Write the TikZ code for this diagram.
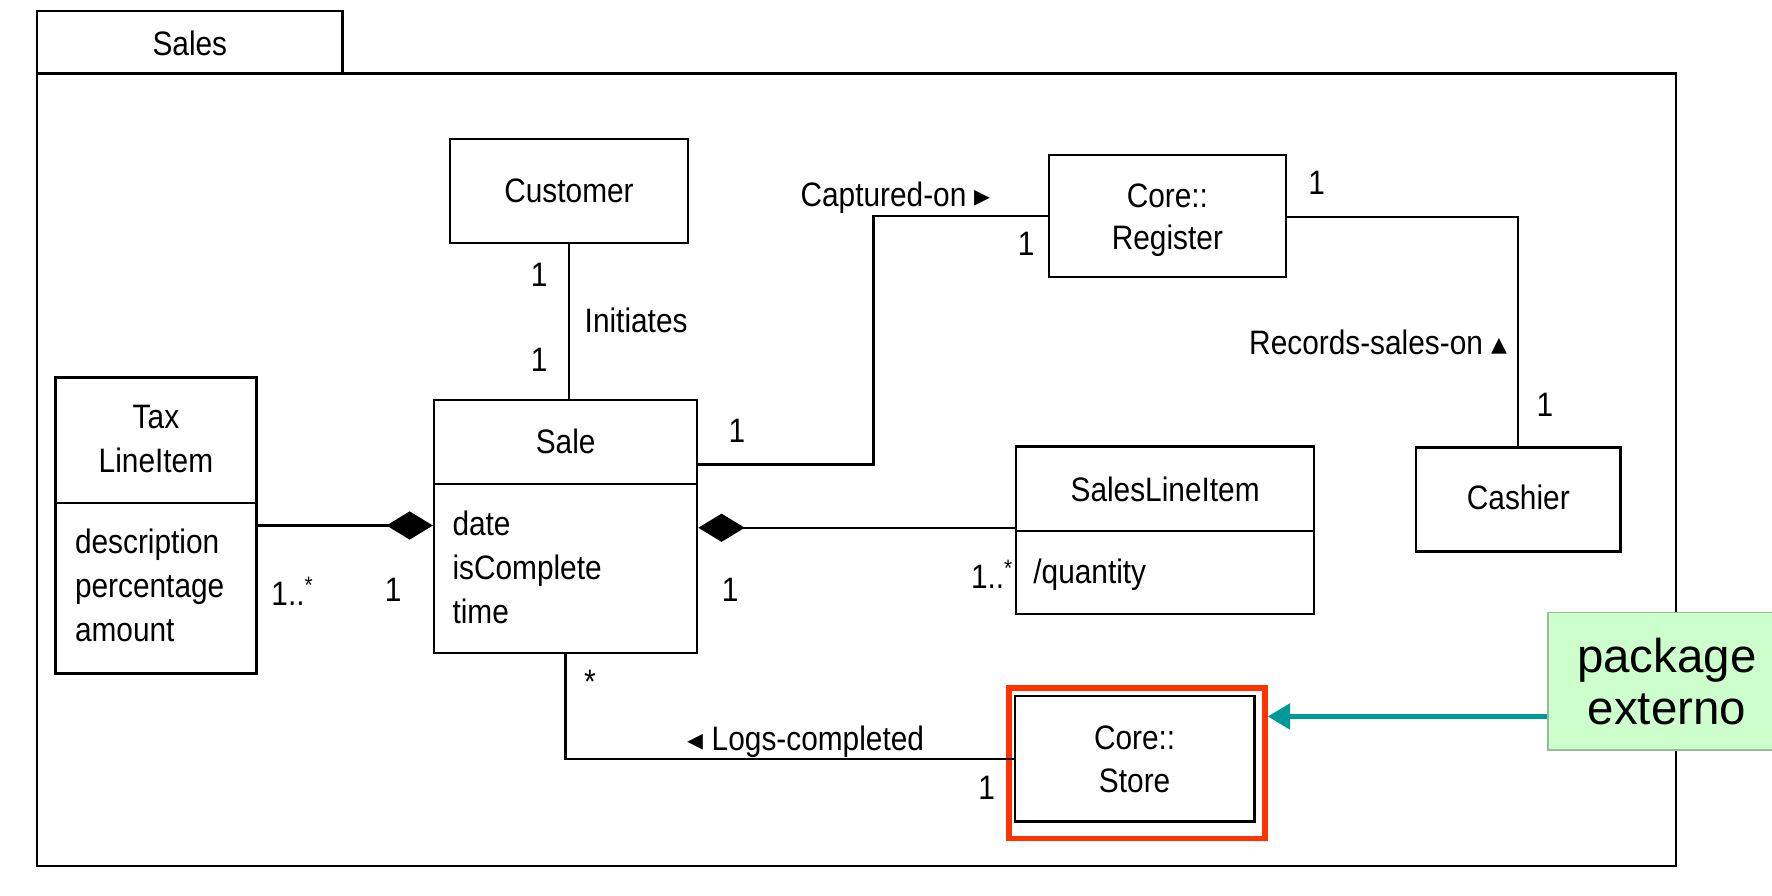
\documentclass[tikz,border=0pt]{standalone}
\usepackage{fontspec}
\setmainfont{Liberation Sans}[FakeStretch=0.88]
\newfontfamily\notefont{Liberation Sans}
\newfontfamily\symfont{DejaVu Sans}
\usetikzlibrary{arrows.meta}
\definecolor{arrowc}{RGB}{0,153,153}
\definecolor{redc}{RGB}{255,51,0}
\definecolor{notefill}{RGB}{204,255,204}
\definecolor{noteline}{RGB}{150,190,150}
\begin{document}
\begin{tikzpicture}[x=0.5pt,y=-0.5pt,
  box/.style={draw=black, line width=1pt, inner sep=0pt},
  txt/.style={font=\fontsize{15}{18}\selectfont, inner sep=0pt, text=black},
  conn/.style={draw=black, line width=1pt},
  comp/.style={conn, -{Diamond[length=20.5pt,width=12.5pt]}},
  tri/.style={font=\symfont\fontsize{14}{16}\selectfont}
]
\useasboundingbox (0,0) rectangle (1568,792);
\fill[white] (0,0) rectangle (1568,792);

% package
\node[box, minimum width=135pt, minimum height=27.5pt] (tab) at (168,37.5) {};
\node[txt, anchor=base] (tabname) at (168,49) {Sales};
\node[box, minimum width=725pt, minimum height=350.5pt] (pkg) at (758,415.5) {};

% classes
\node[box, minimum width=105.5pt, minimum height=46pt] (customer) at (503.5,169) {};
\node[txt, anchor=base] (customername) at (503.5,179) {Customer};

\node[box, minimum width=105pt, minimum height=54pt] (register) at (1033,191) {};
\node[txt, anchor=base] (registername1) at (1033,184) {Core::};
\node[txt, anchor=base] (registername2) at (1033,221) {Register};

\node[box, minimum width=116.5pt, minimum height=112pt] (sale) at (500.5,466) {};
\draw[conn] (sale.west |- 0,428) -- (sale.east |- 0,428);
\node[txt, anchor=base] (salename) at (500.5,401) {Sale};
\node[txt, anchor=base west] (saleattr1) at (400,474) {date};
\node[txt, anchor=base west] (saleattr2) at (400,513) {isComplete};
\node[txt, anchor=base west] (saleattr3) at (400,552) {time};

\node[box, minimum width=89pt, minimum height=131pt] (tax) at (138,465) {};
\draw[conn] (tax.west |- 0,445) -- (tax.east |- 0,445);
\node[txt, anchor=base] (taxname1) at (138,379) {Tax};
\node[txt, anchor=base] (taxname2) at (138,418) {LineItem};
\node[txt, anchor=base west] (taxattr1) at (66,490) {description};
\node[txt, anchor=base west] (taxattr2) at (66,529) {percentage};
\node[txt, anchor=base west] (taxattr3) at (66,568) {amount};

\node[box, minimum width=132pt, minimum height=74pt] (sli) at (1031,469) {};
\draw[conn] (sli.west |- 0,470) -- (sli.east |- 0,470);
\node[txt, anchor=base] (sliname) at (1031,444) {SalesLineItem};
\node[txt, anchor=base west] (sliattr) at (914,516) {/quantity};

\node[box, minimum width=90.5pt, minimum height=46pt] (cashier) at (1343.5,442) {};
\node[txt, anchor=base] (cashiername) at (1343.5,451) {Cashier};

\node[box, minimum width=106pt, minimum height=55.5pt] (store) at (1004,671.5) {};
\node[txt, anchor=base] (storename1) at (1004,663) {Core::};
\node[txt, anchor=base] (storename2) at (1004,701) {Store};

% highlight
\node[draw=redc, line width=2.6pt, inner sep=0pt, minimum width=113pt, minimum height=66.5pt] (storehl) at (1006,675.5) {};

% connectors
\draw[conn] (customer.south) -- (customer.south |- sale.north);
\node[txt] (m1) at (477,243) {1};
\node[txt] (m2) at (477,318) {1};
\node[txt, anchor=base west] (initiates) at (517,294) {Initiates};

\draw[conn] (sale.east |- 0,411) -- (773,411) -- (773,191) -- (register.west);
\node[txt] (m3) at (652,381) {1};
\node[txt] (m4) at (908,216) {1};
\node[txt, anchor=base west] (captured) at (708,183) {Captured-on {\symfont\fontsize{14}{16}\selectfont ▸}};

\draw[conn] (register.east |- 0,192) -| (cashier.north);
\node[txt] (m5) at (1165,162) {1};
\node[txt] (m6) at (1367,358) {1};
\node[txt, anchor=base west] (records) at (1105,314) {Records-sales-on {\symfont\fontsize{14}{16}\selectfont ▴}};

\draw[comp] (tax.east |- 0,465) -- (sale.west |- 0,465);
\node[txt] (m7) at (259,523) {1..\textsuperscript{*}};
\node[txt] (m8) at (348,522) {1};

\draw[comp] (sli.west |- 0,467) -- (sale.east |- 0,467);
\node[txt] (m9) at (646,522) {1};
\node[txt] (m10) at (878,508) {1..\textsuperscript{*}};

\draw[conn] (sale.south) |- (store.west);
\node[txt] (m11) at (522,603) {*};
\node[txt, anchor=base west] (logs) at (608,664) {{\symfont\fontsize{14}{16}\selectfont ◂} Logs-completed};
\node[txt] (m12) at (873,697) {1};

% note
\node[fill=notefill, draw=noteline, line width=0.8pt, inner sep=0pt, minimum width=105pt, minimum height=61pt, align=center, font=\notefont\fontsize{21}{23}\selectfont] (note) at (1475,603) {package\\externo};
\draw[arrowc, line width=2.6pt, -{Triangle[length=10pt,width=11pt]}] (note.west |- 0,634) -- (storehl.east |- 0,634);
\end{tikzpicture}
\end{document}
